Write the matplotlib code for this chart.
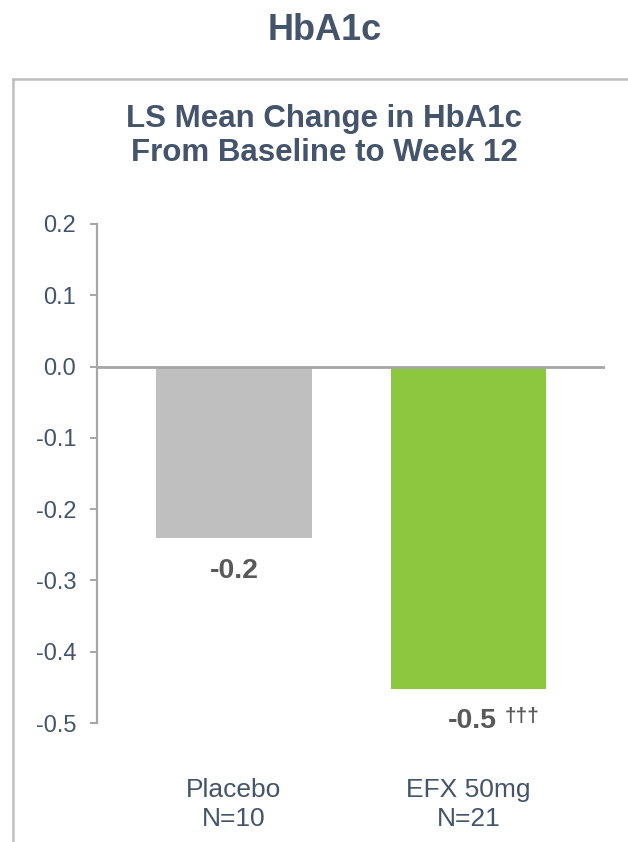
import matplotlib
matplotlib.use("Agg")
import matplotlib.pyplot as plt
from matplotlib.lines import Line2D

plt.rcParams['font.family'] = ['Liberation Sans', 'DejaVu Sans']

# data
grupos = ["Placebo\nN=10", "EFX 50mg\nN=21"]
cambio = [-0.241, -0.452]
etiquetas = ["-0.2", "-0.5"]
marcas = ["", "†††"]
colores = ["#BFBFBF", "#8DC63F"]
yticks = [0.2, 0.1, 0.0, -0.1, -0.2, -0.3, -0.4, -0.5]

W, H = 628, 842
texto = "#44546A"
gris = "#A6A6A6"

fig = plt.figure(figsize=(W / 100, H / 100), dpi=100)

# marco gris del panel
fig.add_artist(Line2D([13 / W, 13 / W], [0, 1 - 79 / H], color="#BFBFBF", lw=1.8))
fig.add_artist(Line2D([13 / W, 1], [1 - 79 / H, 1 - 79 / H], color="#BFBFBF", lw=1.8))

fig.text(325 / W, 1 - 31 / H, "HbA1c", ha="center", va="center",
         fontsize=26, fontweight="bold", color=texto)
fig.text(324 / W, 1 - 136 / H, "LS Mean Change in HbA1c\nFrom Baseline to Week 12",
         ha="center", va="center", fontsize=22.5, fontweight="bold",
         color=texto, linespacing=1.2)

left, right, top, bottom = 97, 605, 224, 723
ax = fig.add_axes([left / W, 1 - bottom / H, (right - left) / W, (bottom - top) / H])

x = list(range(len(grupos)))
ax.bar(x, cambio, width=0.665, color=colores, zorder=2)
ax.axhline(0, color=gris, lw=2, zorder=3)

ax.set_xlim(-0.584, 1.582)
ax.set_ylim(-0.5, 0.2)
ax.set_yticks(yticks)
ax.set_yticklabels([f"{v:.1f}" for v in yticks])
ax.set_xticks([])
for s in ["top", "right", "bottom"]:
    ax.spines[s].set_visible(False)
ax.spines["left"].set_color(gris)
ax.spines["left"].set_linewidth(1.6)
ax.tick_params(axis="y", length=5, width=1.4, color=gris, labelsize=17,
               labelcolor=texto, pad=10)

for xi, v, lab, m in zip(x, cambio, etiquetas, marcas):
    ax.annotate(lab, (xi, v), xytext=(2.5 if m else 0, -23.5), textcoords="offset points",
                ha="center", va="center", fontsize=20.5, fontweight="bold", color="#595959")
    if m:
        ax.annotate(m, (xi, v), xytext=(38.5, -20), textcoords="offset points",
                    ha="center", va="center", fontsize=15, fontweight="bold", color="#595959")
    ax.text(xi, -0.163, grupos[xi], transform=ax.get_xaxis_transform(),
            ha="center", va="center", fontsize=19, color=texto, linespacing=1.25)

fig.savefig("out.png", dpi=100)
